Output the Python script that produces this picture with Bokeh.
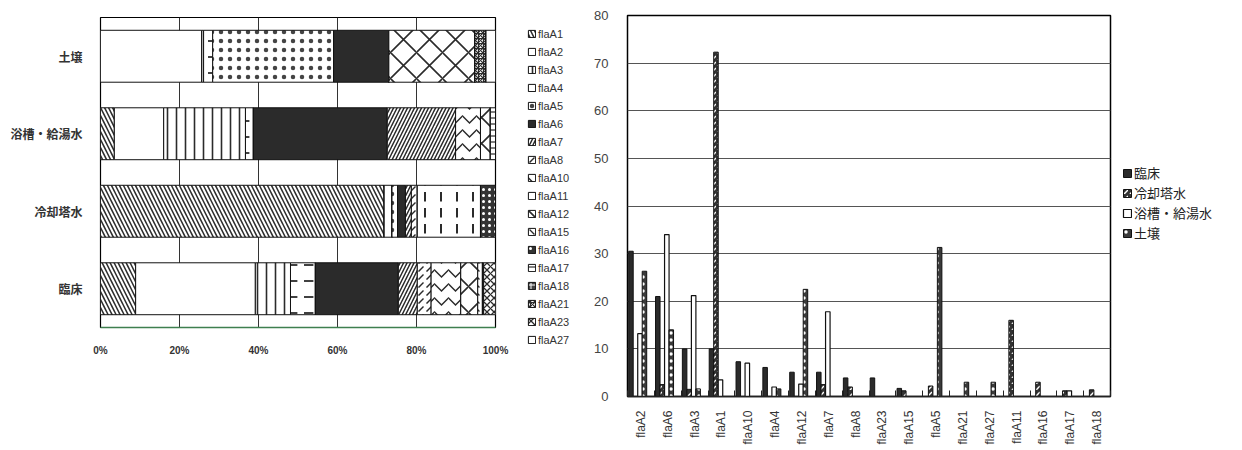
import math
from bokeh.plotting import figure
from bokeh.models import ColumnDataSource, FactorRange, Range1d, FixedTicker
from bokeh.layouts import row
from bokeh.embed import file_html
from bokeh.resources import INLINE
from bokeh.transform import dodge

# ---------------- left chart: share (%) of flaA types per source ----------------
flaa_types = ["flaA1", "flaA2", "flaA3", "flaA4", "flaA5", "flaA6", "flaA7", "flaA8", "flaA10",
              "flaA11", "flaA12", "flaA15", "flaA16", "flaA17", "flaA18", "flaA21", "flaA23", "flaA27"]
sources = ["臨床", "冷却塔水", "浴槽・給湯水", "土壌"]
pct_clinical = [8.9, 30.3, 8.9, 6.3, 0, 21.0, 4.8, 3.5, 7.5, 0, 4.3, 1.2, 0, 0, 0.3, 0, 3.3, 0]
pct_cooling = [71.8, 0, 2.0, 0, 1.4, 2.0, 1.5, 1.5, 0, 16.0, 0, 0, 3.8, 0, 0, 0, 0, 0]
pct_bath = [3.5, 12.5, 20.7, 2.0, 0, 33.9, 17.3, 0, 6.3, 0, 2.5, 0, 0, 1.3, 0, 0, 0, 0]
pct_soil = [0, 25.6, 0.5, 2.3, 30.6, 14.0, 0, 0, 0, 0, 21.8, 0, 0, 0, 0, 2.8, 0, 2.4]
pct_ticks = [0, 20, 40, 60, 80, 100]

# ---------------- right chart: % per flaA type for each source ----------------
bar_types = ["flaA2", "flaA6", "flaA3", "flaA1", "flaA10", "flaA4", "flaA12", "flaA7", "flaA8",
             "flaA23", "flaA15", "flaA5", "flaA21", "flaA27", "flaA11", "flaA16", "flaA17", "flaA18"]
val_clinical = [30.5, 21.0, 10.0, 10.0, 7.3, 6.1, 5.1, 5.1, 3.9, 3.9, 1.7, 0, 0, 0, 0, 0, 0, 0]
val_cooling = [0, 2.5, 1.5, 72.3, 0, 0, 0, 2.5, 2.0, 0, 1.2, 2.2, 0, 0, 16.0, 3.0, 1.2, 1.4]
val_bath = [13.2, 34.0, 21.2, 3.5, 7.0, 2.0, 2.6, 17.8, 0, 0, 0, 0, 0, 0, 0, 0, 1.2, 0]
val_soil = [26.3, 14.0, 1.6, 0, 0, 1.6, 22.5, 0, 0, 0, 0, 31.3, 3.0, 3.0, 0, 0, 0, 0]
series_names = ["臨床", "冷却塔水", "浴槽・給湯水", "土壌"]
y_ticks = [0, 10, 20, 30, 40, 50, 60, 70, 80]

DARK = "#2b2b2b"
CJK = "Noto Sans CJK JP"
LAT = "Liberation Sans"

styles = {
    "flaA1": ("white", "left_diagonal_line", 8, 1.5, DARK),
    "flaA2": ("white", " ", 12, 1, DARK),
    "flaA3": ("white", "vertical_line", 9, 1.6, DARK),
    "flaA4": ("white", "horizontal_dash", 16, 1.8, DARK),
    "flaA5": ("white", "dot", 9, 1.2, "#444444"),
    "flaA6": (DARK, " ", 12, 1, DARK),
    "flaA7": ("white", "right_diagonal_line", 7, 1.5, DARK),
    "flaA8": ("white", "right_diagonal_dash", 8, 1.5, DARK),
    "flaA10": ("white", "horizontal_wave", 14, 1.5, DARK),
    "flaA11": ("white", "vertical_dash", 16, 2, DARK),
    "flaA12": ("white", "diagonal_cross", 26, 1.6, DARK),
    "flaA15": ("white", "left_diagonal_dash", 8, 1.3, DARK),
    "flaA16": ("#333333", "dot", 6, 2, "white"),
    "flaA17": ("white", "horizontal_line", 6, 1.2, DARK),
    "flaA18": ("#444444", "cross", 6, 1, "white"),
    "flaA21": ("white", "criss_cross", 5, 1.2, DARK),
    "flaA23": ("white", "diagonal_cross", 7, 1.3, DARK),
    "flaA27": ("white", " ", 12, 1, DARK),
}
stack_kw = dict(
    fill_color=[styles[t][0] for t in flaa_types],
    hatch_pattern=[styles[t][1] for t in flaa_types],
    hatch_scale=[styles[t][2] for t in flaa_types],
    hatch_weight=[styles[t][3] for t in flaa_types],
    hatch_color=[styles[t][4] for t in flaa_types],
    line_color="#111111", line_width=1,
)
series_kw = [
    dict(fill_color=DARK, line_color="#111111", line_width=1),
    dict(fill_color="#333333", hatch_pattern="right_diagonal_dash", hatch_color="white",
         hatch_scale=6, hatch_weight=1.5, line_color="#111111", line_width=1),
    dict(fill_color="white", line_color="#111111", line_width=1.2),
    dict(fill_color="#3a3a3a", hatch_pattern="dot", hatch_color="white",
         hatch_scale=7, hatch_weight=2, line_color="#111111", line_width=1),
]


def legend_figure(width, x_range, y_range):
    # a frameless panel that only shows a legend; its categorical range has no matching
    # factor, so the glyphs themselves are not drawn there
    f = figure(width=width, height=450, x_range=x_range, y_range=y_range,
               output_backend="svg", toolbar_location=None,
               x_axis_location=None, y_axis_location=None, frame_align=False,
               min_border_left=0, min_border_right=0, min_border_top=0, min_border_bottom=0)
    f.outline_line_color = None
    f.xgrid.grid_line_color = None
    f.ygrid.grid_line_color = None
    f.background_fill_color = "white"
    f.border_fill_color = "white"
    return f


def style_legend(lg, loc, label_h, gw, font, size, color, spacing):
    lg.location = loc
    lg.orientation = "vertical"
    lg.padding = 0
    lg.margin = 0
    lg.spacing = spacing
    lg.label_height = label_h
    lg.glyph_width = gw
    lg.glyph_height = gw
    lg.label_standoff = 2
    lg.label_text_font = font
    lg.label_text_font_size = size
    lg.label_text_color = color
    lg.border_line_color = None
    lg.background_fill_alpha = 0


# ======================= LEFT =======================
p1 = figure(width=522, height=450, x_range=Range1d(0, 100), y_range=FactorRange(factors=sources),
            output_backend="svg", toolbar_location=None, frame_align=False,
            min_border_left=100, min_border_right=27, min_border_top=17, min_border_bottom=123)
p1.outline_line_color = "black"
p1.outline_line_width = 1.2
p1.background_fill_color = "white"
p1.border_fill_color = "white"

cols = {"source": sources}
for i, t in enumerate(flaa_types):
    cols[t] = [pct_clinical[i], pct_cooling[i], pct_bath[i], pct_soil[i]]
left_src = ColumnDataSource(cols)

p1.hbar_stack(flaa_types, y="source", height=0.67, source=left_src, **stack_kw)

p1.xaxis.ticker = FixedTicker(ticks=pct_ticks)
p1.xaxis.major_label_overrides = {t: f"{t}%" for t in pct_ticks}
p1.xaxis.major_tick_line_color = None
p1.xaxis.minor_tick_line_color = None
p1.xaxis.axis_line_color = "#3f7f4f"
p1.xaxis.axis_line_width = 1.5
p1.xaxis.major_label_standoff = 11
p1.xaxis.major_label_text_font = LAT
p1.xaxis.major_label_text_font_style = "bold"
p1.xaxis.major_label_text_font_size = "10px"
p1.xaxis.major_label_text_color = "#333333"

p1.yaxis.major_tick_line_color = None
p1.yaxis.axis_line_color = None
p1.yaxis.major_label_standoff = 12
p1.yaxis.major_label_text_font = CJK
p1.yaxis.major_label_text_font_style = "bold"
p1.yaxis.major_label_text_font_size = "12px"
p1.yaxis.major_label_text_color = "#333333"

p1.xgrid.grid_line_color = "#333333"
p1.xgrid.grid_line_width = 1
p1.ygrid.grid_line_color = None

# legend of the left chart, in its own narrow panel
leg1 = legend_figure(68, Range1d(0, 100), FactorRange(factors=["_"]))
leg1.hbar_stack(flaa_types, y="source", height=0.67, source=left_src,
                legend_label=flaa_types, **stack_kw)
style_legend(leg1.legend[0], (5, 103), 15, 9, LAT, "11px", "#333333", 3)

# ======================= RIGHT =======================
n = len(bar_types)
centers = [i + 0.5 for i in range(n)]
right_src = ColumnDataSource(dict(x=centers, t=bar_types, c=val_clinical, w=val_cooling,
                                  b=val_bath, s=val_soil))

p2 = figure(width=528, height=450, x_range=Range1d(0, n), y_range=Range1d(0, 80),
            output_backend="svg", toolbar_location=None, frame_align=False,
            min_border_left=37, min_border_right=8, min_border_top=15, min_border_bottom=54)
p2.outline_line_color = "black"
p2.outline_line_width = 1.5
p2.background_fill_color = "white"
p2.border_fill_color = "white"

bw = 0.168
offsets = [-0.371, -0.203, -0.035, 0.132]
fields = ["c", "w", "b", "s"]
for off, fld, kw in zip(offsets, fields, series_kw):
    p2.vbar(x=dodge("x", off, range=p2.x_range), top=fld, width=bw, source=right_src, **kw)

p2.xaxis.ticker = FixedTicker(ticks=centers, minor_ticks=list(range(n + 1)))
p2.xaxis.major_label_overrides = {c: t for c, t in zip(centers, bar_types)}
p2.xaxis.major_label_orientation = math.pi / 2
p2.xaxis.major_tick_line_color = None
p2.xaxis.minor_tick_in = 6
p2.xaxis.minor_tick_out = 0
p2.xaxis.minor_tick_line_color = "#222222"
p2.xaxis.axis_line_color = "#222222"
p2.xaxis.axis_line_width = 1.5
p2.xaxis.major_label_standoff = 8
p2.xaxis.major_label_text_font = LAT
p2.xaxis.major_label_text_font_size = "12px"
p2.xaxis.major_label_text_color = "#333333"

p2.yaxis.ticker = FixedTicker(ticks=y_ticks)
p2.yaxis.major_tick_line_color = None
p2.yaxis.minor_tick_line_color = None
p2.yaxis.axis_line_color = None
p2.yaxis.major_label_standoff = 13
p2.yaxis.major_label_text_font = LAT
p2.yaxis.major_label_text_font_size = "13px"
p2.yaxis.major_label_text_color = "#444444"

p2.xgrid.grid_line_color = None
p2.ygrid.grid_line_color = "#555555"
p2.ygrid.grid_line_width = 1

# legend of the right chart, in its own panel
leg2 = legend_figure(124, FactorRange(factors=["_"]), Range1d(0, 80))
for fld, name, kw in zip(fields, series_names, series_kw):
    leg2.vbar(x="t", top=fld, width=0.5, source=right_src, legend_label=name, **kw)
style_legend(leg2.legend[0], (4, 208), 17, 10, CJK, "13px", "#222222", 1)

layout = row(p1, leg1, p2, leg2)
open("out.html", "w").write(file_html(layout, INLINE))
